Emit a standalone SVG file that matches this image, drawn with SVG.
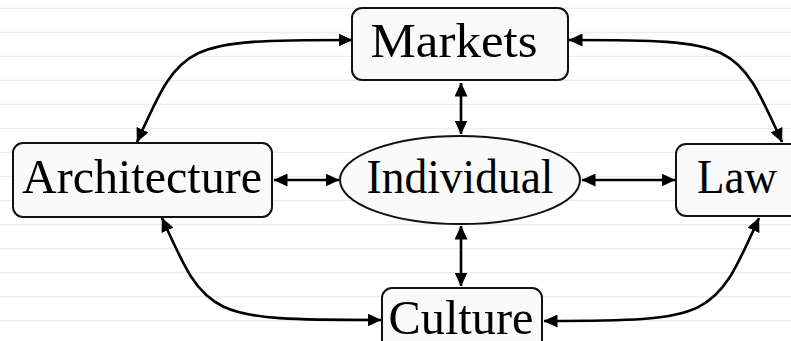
<svg xmlns="http://www.w3.org/2000/svg" width="791" height="341" viewBox="0 0 791 341">
<style>
.bg{stroke:#ececec;stroke-width:1.2;fill:none}
.box{fill:#fafafa;stroke:#111;stroke-width:2}
.lbl{font-family:"Liberation Serif","Times New Roman",serif;font-size:49px;fill:#000;text-anchor:middle}
.edge{fill:none;stroke:#000;stroke-width:2.6}
</style>
<defs>
<marker id="ah" viewBox="0 0 14 13" refX="13.5" refY="6.5" markerWidth="14" markerHeight="13" markerUnits="userSpaceOnUse" orient="auto-start-reverse">
<path d="M0,0 L14,6.5 L0,13 Z" fill="#000"/>
</marker>
</defs>
<rect width="791" height="341" fill="#fff"/>
<g id="background">
<path class="bg" d="M0,8.3H791M0,32.3H791M0,56.3H791M0,80.4H791M0,104.4H791M0,128.5H791M0,152.5H791M0,176.5H791M0,200.6H791M0,224.6H791M0,248.6H791M0,272.6H791M0,296.7H791M0,320.7H791"/>
</g>
<g id="connectors">
<path class="edge" d="M461,83 V134" marker-start="url(#ah)" marker-end="url(#ah)"/>
<path class="edge" d="M461,226 V286" marker-start="url(#ah)" marker-end="url(#ah)"/>
<path class="edge" d="M274,180 H339" marker-start="url(#ah)" marker-end="url(#ah)"/>
<path class="edge" d="M582,180 H675" marker-start="url(#ah)" marker-end="url(#ah)"/>
<path class="edge" d="M137,142 C182,42 182,40 352,40" marker-start="url(#ah)" marker-end="url(#ah)"/>
<path class="edge" d="M782,142 C737,42 737,40 569,40" marker-start="url(#ah)" marker-end="url(#ah)"/>
<path class="edge" d="M162,218 C207,318 207,320 381,320" marker-start="url(#ah)" marker-end="url(#ah)"/>
<path class="edge" d="M759,218 C714,318 714,321 544,321" marker-start="url(#ah)" marker-end="url(#ah)"/>
</g>
<g id="node-markets">
<rect class="box" x="352" y="8" width="216" height="72" rx="10"/>
<text class="lbl" x="454" y="57" textLength="167" lengthAdjust="spacingAndGlyphs">Markets</text>
</g>
<g id="node-architecture">
<rect class="box" x="13" y="143" width="259" height="74" rx="10"/>
<text class="lbl" x="142" y="193" textLength="240" lengthAdjust="spacingAndGlyphs">Architecture</text>
</g>
<g id="node-individual">
<ellipse class="box" cx="460" cy="180" rx="120" ry="44"/>
<text class="lbl" x="460" y="193" textLength="187" lengthAdjust="spacingAndGlyphs">Individual</text>
</g>
<g id="node-law">
<rect class="box" x="676" y="144" width="130" height="72" rx="10"/>
<text class="lbl" x="737" y="193" textLength="80" lengthAdjust="spacingAndGlyphs">Law</text>
</g>
<g id="node-culture">
<rect class="box" x="382" y="288" width="160" height="70" rx="10"/>
<text class="lbl" x="461" y="334" textLength="145" lengthAdjust="spacingAndGlyphs">Culture</text>
</g>
</svg>
